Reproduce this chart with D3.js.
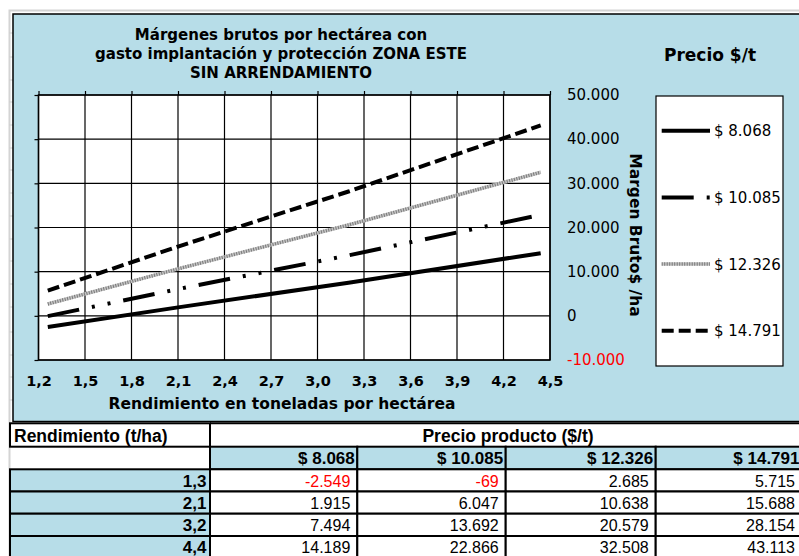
<!DOCTYPE html>
<html>
<head>
<meta charset="utf-8">
<script src="https://cdn.jsdelivr.net/npm/d3@7"></script>
<style>
  body { margin: 0; background: #fff; }
  svg { display: block; }
</style>
</head>
<body>
<script>
// Data
var rendimiento = [1.26, 2.1, 3.2, 4.44];          // t/ha
var precios = [8068, 10085, 12326, 14791];          // $/t
var margen8068 = [-2549, 1915, 7494, 14189];
var margen10085 = [-69, 6047, 13692, 22866];
var margen12326 = [2685, 10638, 20579, 32508];
var margen14791 = [5715, 15688, 28154, 43113];
var xTicks = [1.2, 1.5, 1.8, 2.1, 2.4, 2.7, 3.0, 3.3, 3.6, 3.9, 4.2, 4.5];
var yTicks = [-10000, 0, 10000, 20000, 30000, 40000, 50000];

var series = [margen8068, margen10085, margen12326, margen14791];

// Global variables
var W = 799, H = 556,
	blue = "#b7dde8",
	chartFont = "'DejaVu Sans', Verdana, sans-serif",
	tableFont = "'Liberation Sans', Arial, sans-serif",
	plot = {left: 38.5, right: 550, top: 95, bottom: 360};

var es = d3.formatLocale({decimal: ",", thousands: ".", grouping: [3], currency: ["$ ", ""], minus: "-"});
var fmtNum = es.format(",.0f"),
	fmtX = es.format(".1f"),
	fmtPrice = es.format("$,.0f");

var svg = d3.select("body")
	.append("svg")
	.attr("width", W)
	.attr("height", H);

// Spreadsheet background
svg.append("rect")
	.attr("x", 0).attr("y", 0)
	.attr("width", W).attr("height", H)
	.attr("fill", "#fff");
svg.append("path")
	.attr("d", "M9.5 " + H + " V10.5 H" + W)
	.attr("fill", "none")
	.attr("stroke", "#d4d4d4")
	.attr("stroke-width", 2);
[33, 57, 80, 102, 125, 148, 170, 193, 216, 239, 261, 284, 307, 332, 355, 377, 400].forEach(function(yy) {
	svg.append("line")
		.attr("x1", 9).attr("x2", 13)
		.attr("y1", yy).attr("y2", yy)
		.attr("stroke", "#cfcfcf");
});

// Chart area
svg.append("rect")
	.attr("x", 13)
	.attr("y", 14)
	.attr("width", W)
	.attr("height", 407.5)
	.attr("fill", blue)
	.attr("stroke", "black")
	.attr("stroke-width", 1.5);

var x = d3.scaleLinear().domain([1.2, 4.5]).range([plot.left, plot.right]);
var y = d3.scaleLinear().domain([-10000, 50000]).range([plot.bottom, plot.top]);

// Plot area
svg.append("rect")
	.attr("x", plot.left)
	.attr("y", plot.top)
	.attr("width", plot.right - plot.left)
	.attr("height", plot.bottom - plot.top)
	.attr("fill", "white");

// Gridlines
svg.append("g")
	.selectAll("line")
	.data(xTicks)
	.enter()
	.append("line")
	.attr("x1", function(d) { return x(d); })
	.attr("x2", function(d) { return x(d); })
	.attr("y1", plot.top)
	.attr("y2", plot.bottom)
	.attr("stroke", "black")
	.attr("stroke-width", 1.2);
svg.append("g")
	.selectAll("line")
	.data(yTicks)
	.enter()
	.append("line")
	.attr("x1", plot.left)
	.attr("x2", plot.right)
	.attr("y1", function(d) { return y(d); })
	.attr("y2", function(d) { return y(d); })
	.attr("stroke", "black")
	.attr("stroke-width", 1.2);
svg.append("rect")
	.attr("x", plot.left)
	.attr("y", plot.top)
	.attr("width", plot.right - plot.left)
	.attr("height", plot.bottom - plot.top)
	.attr("fill", "none")
	.attr("stroke", "black")
	.attr("stroke-width", 1.5);

// Tick marks (top and left)
svg.append("g")
	.attr("transform", "translate(0," + plot.top + ")")
	.call(d3.axisTop(x).tickValues(xTicks).tickFormat("").tickSizeInner(4).tickSizeOuter(0))
	.call(function(g) { g.select(".domain").remove(); g.selectAll("line").attr("stroke-width", 1.2); });
svg.append("g")
	.attr("transform", "translate(" + plot.left + ",0)")
	.call(d3.axisLeft(y).tickValues(yTicks).tickFormat("").tickSizeInner(4).tickSizeOuter(0))
	.call(function(g) { g.select(".domain").remove(); g.selectAll("line").attr("stroke-width", 1.2); });

// X labels
var xAxis = svg.append("g")
	.attr("transform", "translate(0," + plot.bottom + ")")
	.call(d3.axisBottom(x).tickValues(xTicks).tickFormat(fmtX).tickSize(0).tickPadding(16));
xAxis.select(".domain").remove();
xAxis.selectAll("text")
	.attr("font-family", chartFont)
	.attr("font-size", "14.5px")
	.attr("font-weight", "bold")
	.attr("fill", "#000");

// Y labels (right side)
var yAxis = svg.append("g")
	.attr("transform", "translate(567,0)")
	.call(d3.axisRight(y).tickValues(yTicks).tickFormat(fmtNum).tickSize(0).tickPadding(0));
yAxis.select(".domain").remove();
yAxis.selectAll("text")
	.attr("font-family", chartFont)
	.attr("font-size", "15px")
	.attr("fill", function(d) { return d < 0 ? "red" : "#000"; });

// Series styles
var styles = [
	{stroke: "black", width: 4, dash: null},
	{stroke: "black", width: 4, dash: "32,13,3,13,3,13"},
	{stroke: "#c4c4c4", width: 3.5, dash: null, over: "#7a7a7a"},
	{stroke: "black", width: 4, dash: "12,5"}
];

var line = d3.line()
	.x(function(d, i) { return x(rendimiento[i]); })
	.y(function(d) { return y(d); });

series.forEach(function(s, k) {
	var st = styles[k];
	svg.append("path")
		.attr("d", line(s))
		.attr("fill", "none")
		.attr("stroke", st.stroke)
		.attr("stroke-width", st.width)
		.attr("stroke-dasharray", st.dash);
	if (st.over) {
		svg.append("path")
			.attr("d", line(s))
			.attr("fill", "none")
			.attr("stroke", st.over)
			.attr("stroke-width", st.width)
			.attr("stroke-dasharray", "1,1.5");
	}
});

// Chart title
var title = ["Márgenes brutos por hectárea con",
	"gasto implantación y protección ZONA ESTE",
	"SIN ARRENDAMIENTO"];
svg.append("text")
	.attr("font-family", chartFont)
	.attr("font-size", "15px")
	.attr("font-weight", "bold")
	.attr("text-anchor", "middle")
	.selectAll("tspan")
	.data(title)
	.enter()
	.append("tspan")
	.attr("x", 281)
	.attr("y", function(d, i) { return 39.5 + i * 19; })
	.text(function(d) { return d; });

// Axis titles
svg.append("text")
	.text("Rendimiento en toneladas por hectárea")
	.attr("x", 282)
	.attr("y", 409)
	.attr("font-family", chartFont)
	.attr("font-size", "15.5px")
	.attr("font-weight", "bold")
	.attr("text-anchor", "middle");
svg.append("text")
	.text("Margen Bruto$ /ha")
	.attr("transform", "translate(635,235) rotate(90)")
	.attr("font-family", chartFont)
	.attr("font-size", "15.5px")
	.attr("font-weight", "bold")
	.attr("text-anchor", "middle")
	.attr("dominant-baseline", "central");

// Legend
svg.append("text")
	.text("Precio $/t")
	.attr("x", 710)
	.attr("y", 61)
	.attr("font-family", chartFont)
	.attr("font-size", "17px")
	.attr("font-weight", "bold")
	.attr("text-anchor", "middle");
svg.append("rect")
	.attr("x", 656)
	.attr("y", 96)
	.attr("width", 127)
	.attr("height", 270)
	.attr("fill", "white")
	.attr("stroke", "black")
	.attr("stroke-width", 1.2);

var legend = svg.append("g")
	.selectAll("g")
	.data(precios)
	.enter()
	.append("g")
	.attr("transform", function(d, i) { return "translate(0," + (130.7 + i * 66.7) + ")"; });
legend.each(function(d, i) {
	var g = d3.select(this), st = styles[i];
	g.append("line")
		.attr("x1", 661.7).attr("x2", 710)
		.attr("y1", 0).attr("y2", 0)
		.attr("stroke", st.stroke)
		.attr("stroke-width", st.width)
		.attr("stroke-dasharray", st.dash);
	if (st.over) {
		g.append("line")
			.attr("x1", 661.7).attr("x2", 710)
			.attr("y1", 0).attr("y2", 0)
			.attr("stroke", st.over)
			.attr("stroke-width", st.width)
			.attr("stroke-dasharray", "1,1.5");
	}
	g.append("text")
		.text(fmtPrice(d))
		.attr("x", 714)
		.attr("y", 0)
		.attr("dy", "0.36em")
		.attr("font-family", chartFont)
		.attr("font-size", "15px");
});

// Table
var colX = [10, 210, 357.3, 505.7, 655.7, 802];
var rowY = [423.3, 446.7, 469.3, 491.5, 513.7, 536, 558.3];
var table = svg.append("g")
	.attr("font-family", tableFont);

// header row 1
table.append("rect")
	.attr("x", colX[0]).attr("y", rowY[0])
	.attr("width", colX[1] - colX[0]).attr("height", rowY[1] - rowY[0])
	.attr("fill", "white").attr("stroke", "black").attr("stroke-width", 2);
table.append("text")
	.text("Rendimiento (t/ha)")
	.attr("x", colX[0] + 4).attr("y", rowY[1] - 5)
	.attr("font-size", "17.5px").attr("font-weight", "bold");
table.append("line")
	.attr("x1", colX[1]).attr("x2", W)
	.attr("y1", rowY[0]).attr("y2", rowY[0])
	.attr("stroke", "black").attr("stroke-width", 2);
table.append("text")
	.text("Precio producto ($/t)")
	.attr("x", 508).attr("y", rowY[1] - 5)
	.attr("font-size", "17.5px").attr("font-weight", "bold")
	.attr("text-anchor", "middle");

// header row 2: prices
precios.forEach(function(p, j) {
	table.append("rect")
		.attr("x", colX[j + 1]).attr("y", rowY[1])
		.attr("width", colX[j + 2] - colX[j + 1]).attr("height", rowY[2] - rowY[1])
		.attr("fill", blue).attr("stroke", "black").attr("stroke-width", 2);
	table.append("text")
		.text(fmtPrice(p))
		.attr("x", colX[j + 2] - 2.5).attr("y", rowY[2] - 5)
		.attr("font-size", "17px").attr("font-weight", "bold")
		.attr("text-anchor", "end");
});

// data rows
rendimiento.forEach(function(r, i) {
	var top = rowY[i + 2], bot = rowY[i + 3];
	table.append("rect")
		.attr("x", colX[0]).attr("y", top)
		.attr("width", colX[1] - colX[0]).attr("height", bot - top)
		.attr("fill", blue).attr("stroke", "black").attr("stroke-width", 2);
	table.append("text")
		.text(fmtX(r))
		.attr("x", colX[1] - 3.5).attr("y", bot - 5)
		.attr("font-size", "17px").attr("font-weight", "bold")
		.attr("text-anchor", "end");
	series.forEach(function(s, j) {
		table.append("rect")
			.attr("x", colX[j + 1]).attr("y", top)
			.attr("width", colX[j + 2] - colX[j + 1]).attr("height", bot - top)
			.attr("fill", "white").attr("stroke", "black").attr("stroke-width", 2);
		table.append("text")
			.text(fmtNum(s[i]))
			.attr("x", colX[j + 2] - 7).attr("y", bot - 5)
			.attr("font-size", "16px")
			.attr("fill", s[i] < 0 ? "red" : "#000")
			.attr("text-anchor", "end");
	});
});
</script>
</body>
</html>
